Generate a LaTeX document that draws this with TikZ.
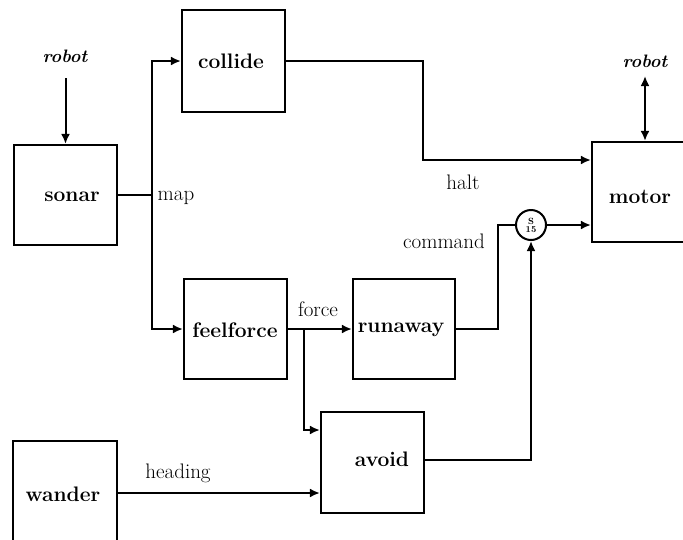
\documentclass[tikz,border=0pt]{standalone}
\usetikzlibrary{arrows.meta}
\begin{document}
\begin{tikzpicture}[x=1pt,y=-1pt,
  blk/.style={draw, line width=2.2pt, minimum width=103pt, minimum height=100pt, inner sep=0pt},
  modname/.style={font=\fontsize{21}{24}\selectfont\bfseries, inner sep=0pt},
  sig/.style={font=\fontsize{21}{24}\selectfont, inner sep=0pt},
  ext/.style={font=\fontsize{18}{21}\selectfont\bfseries\itshape, inner sep=0pt},
  wire/.style={line width=2pt},
  arr/.style={wire, -{Latex[length=10pt,width=9pt]}},
  darr/.style={wire, {Latex[length=10pt,width=9pt]}-{Latex[length=10pt,width=9pt]}},
  supp/.style={draw, circle, line width=2pt, minimum size=30pt, inner sep=0pt,
    font=\fontsize{9}{9}\selectfont\bfseries, align=center}]
\useasboundingbox (0,0) rectangle (683,539);
\clip (0,0) rectangle (683,539);

% behaviour modules
\node[blk] (sonar) at (65.5,195) {};
\node[blk, minimum height=102pt] (collide) at (233.5,61) {};
\node[blk] (feelforce) at (235.5,329) {};
\node[blk, minimum width=102pt] (runaway) at (404,329) {};
\node[blk, minimum height=101pt] (avoid) at (372.5,462.5) {};
\node[blk, minimum width=104pt, minimum height=120pt] (wander) at (65,501) {};
\node[blk, minimum width=110pt] (motor) at (647,192) {};

\node[modname] (sonart) at (72,197) {sonar};
\node[modname] (collidet) at (231,61) {collide};
\node[modname] (feelforcet) at (235,330) {feelforce};
\node[modname] (runawayt) at (401,330) {runaway};
\node[modname] (avoidt) at (382,459) {avoid};
\node[modname] (wandert) at (63,494) {wander};
\node[modname] (motort) at (640,197) {motor};

% suppressor node
\node[supp] (sup) at (531,225) {S\\[-1pt]15};

% sensor and actuator ends
\coordinate (rin) at (65.5,78);
\coordinate (rout) at (645,76);
\node[ext] (robotin) at (65,56) {robot};
\node[ext] (robotout) at (645,61) {robot};

% junctions
\coordinate (mapj) at (152,195);
\coordinate (haltc) at (423,61);
\coordinate (forcej) at (304,329);
\coordinate (cmdc) at (498,329);
\coordinate (avc) at (531,460);

% connectors
\draw[arr] (rin) -- (sonar.north);
\draw[darr] (rout) -- (rout |- motor.north);
\draw[wire] (sonar.east) -- (mapj);
\draw[arr] (mapj) |- (collide.west);
\draw[arr] (mapj) |- (feelforce.west);
\draw[arr] (collide.east) -- (haltc) -- (423,160) -- (motor.west |- 0,160);
\draw[arr] (feelforce.east) -- (runaway.west);
\draw[arr] (forcej) |- (avoid.west |- 0,430);
\draw[wire] (runaway.east) -- (cmdc) |- (sup.west);
\draw[arr] (sup.east) -- (motor.west |- sup.east);
\draw[arr] (avoid.east |- avc) -- (avc) -- (sup.south);
\draw[arr] (wander.east |- 0,493) -- (avoid.west |- 0,493);

% signal labels
\node[sig] (mapl) at (176,198) {map};
\node[sig] (haltl) at (463,182) {halt};
\node[sig] (cmdl) at (444,241) {command};
\node[sig] (forcel) at (318,309) {force};
\node[sig] (headl) at (178,473) {heading};
\end{tikzpicture}
\end{document}
